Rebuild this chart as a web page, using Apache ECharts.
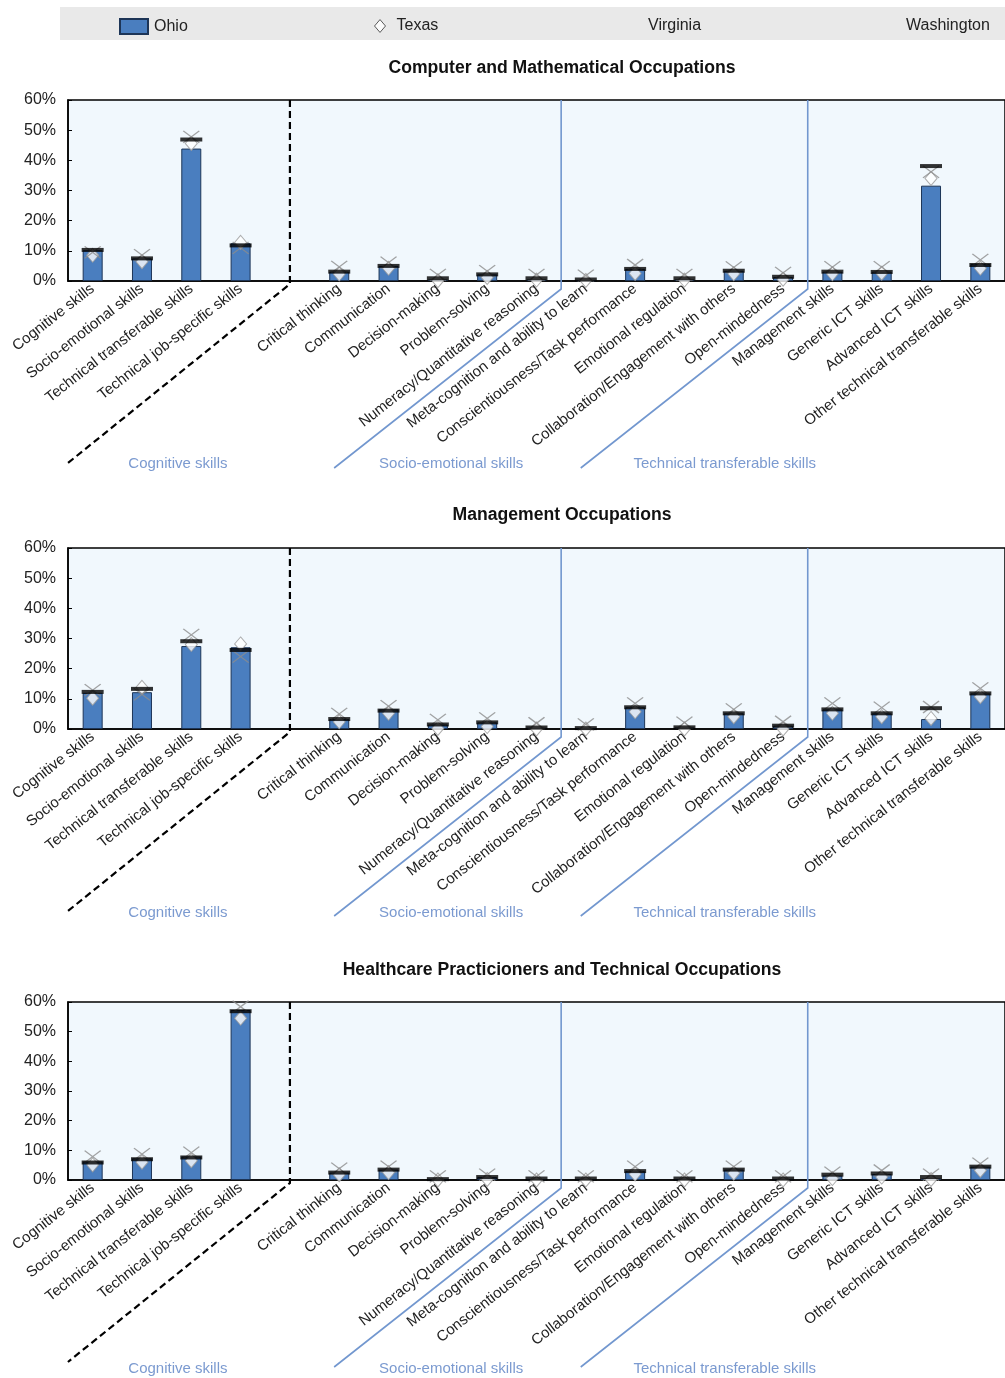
<!DOCTYPE html>
<html>
<head>
<meta charset="utf-8">
<script src="https://cdn.jsdelivr.net/npm/echarts@6/dist/echarts.min.js"></script>
<style>
html,body{margin:0;padding:0;background:#fff;}
#chart{width:1005px;height:1378px;}
</style>
</head>
<body>
<div id="chart"></div>
<script>
const categories = ['Cognitive skills','Socio-emotional skills','Technical transferable skills','Technical job-specific skills','',
  'Critical thinking','Communication','Decision-making','Problem-solving','Numeracy/Quantitative reasoning',
  'Meta-cognition and ability to learn','Conscientiousness/Task performance','Emotional regulation','Collaboration/Engagement with others','Open-mindedness',
  'Management skills','Generic ICT skills','Advanced ICT skills','Other technical transferable skills'];

const panelTitles = ['Computer and Mathematical Occupations','Management Occupations','Healthcare Practicioners and Technical Occupations'];
const groupLabels = ['Cognitive skills','Socio-emotional skills','Technical transferable skills'];
const yTicks = [0,10,20,30,40,50,60];

// Panel 1: Computer and Mathematical Occupations
const ohio1       = [10.2, 7.5, 43.9, 12.5, null, 3.1, 5.0, 0.5, 2.2, 0.5, 0.2, 4.0, 0.5, 3.4, 1.3, 3.1, 3.1, 31.6, 5.6];
const texas1      = [8.5, 6.4, 45.6, 12.8, null, 2.3, 4.2, 0.1, 1.2, 0.3, 0.2, 2.5, 0.3, 2.4, 0.6, 2.4, 2.6, 34.0, 4.2];
const virginia1   = [9.5, 8.6, 47.8, 11.0, null, 4.7, 6.1, 2.0, 3.3, 2.0, 1.8, 5.3, 2.0, 4.5, 2.7, 4.6, 4.6, 36.2, 7.0];
const washington1 = [10.3, 7.5, 46.9, 11.8, null, 3.1, 5.0, 0.9, 2.2, 0.9, 0.5, 4.0, 0.9, 3.4, 1.4, 3.1, 3.0, 38.1, 5.3];

// Panel 2: Management Occupations
const ohio2       = [12.0, 12.2, 27.5, 27.1, null, 3.3, 6.5, 1.5, 2.2, 0.4, 0.3, 7.2, 0.5, 5.2, 1.1, 6.5, 5.2, 3.3, 11.8];
const texas2      = [10.2, 13.8, 28.0, 28.2, null, 2.4, 5.2, 0.2, 0.8, 0.0, 0.0, 5.7, 0.0, 4.1, 0.0, 5.2, 4.1, 3.5, 10.7];
const virginia2   = [12.9, 11.5, 31.2, 24.0, null, 5.0, 7.6, 3.0, 3.5, 1.9, 1.5, 8.5, 2.1, 6.5, 2.4, 8.5, 7.1, 7.3, 13.5];
const washington2 = [12.3, 13.3, 29.1, 26.2, null, 3.3, 6.1, 1.5, 2.2, 0.5, 0.3, 7.2, 0.55, 5.2, 1.1, 6.5, 5.2, 6.9, 11.8];

// Panel 3: Healthcare Practicioners and Technical Occupations
const ohio3       = [6.2, 7.3, 7.9, 57.3, null, 2.5, 3.5, 0.2, 1.0, 0.3, 0.3, 3.0, 0.3, 3.5, 0.3, 1.5, 2.0, 0.5, 4.5];
const texas3      = [5.1, 6.0, 6.5, 54.5, null, 1.8, 2.5, 0.0, 0.2, 0.0, 0.0, 2.0, 0.0, 2.3, 0.0, 0.5, 1.0, 0.2, 3.2];
const virginia3   = [7.9, 8.7, 9.2, 58.4, null, 3.8, 4.5, 1.2, 1.8, 1.2, 1.2, 4.5, 1.2, 4.5, 1.2, 2.5, 3.2, 1.8, 5.5];
const washington3 = [5.9, 7.0, 7.6, 56.9, null, 2.5, 3.5, 0.3, 1.0, 0.5, 0.5, 3.0, 0.5, 3.5, 0.5, 1.8, 2.2, 1.0, 4.5];

const panels = [
  {ohio: ohio1, texas: texas1, virginia: virginia1, washington: washington1},
  {ohio: ohio2, texas: texas2, virginia: virginia2, washington: washington2},
  {ohio: ohio3, texas: texas3, virginia: virginia3, washington: washington3}
];

const FONT = "'Liberation Sans Narrow','Arial Narrow','Liberation Sans',Arial,sans-serif";
const gridTops = [100, 548, 1002];
const gridHeights = [181, 181, 178];
const titleTops = [54, 501, 956];
const groupLabelOffsets = [183, 184, 189];
const X_SYMBOL = 'path://M0,0L16,12M16,0L0,12';
const DIAMOND = 'path://M6,0L12,7L6,14L0,7Z';

const chart = echarts.init(document.getElementById('chart'), null, {renderer: 'canvas'});

const grids = [], xAxes = [], yAxes = [], titles = [], series = [];
panels.forEach((p, i) => {
  grids.push({left: 68, width: 944, top: gridTops[i], height: gridHeights[i], show: true,
    backgroundColor: '#f1f8fd', borderColor: '#000', borderWidth: 1.5, containLabel: false});
  xAxes.push({type: 'category', gridIndex: i, data: categories, boundaryGap: true,
    axisLine: {lineStyle: {color: '#000', width: 1.5}},
    axisTick: {inside: true, length: 5, alignWithLabel: false, lineStyle: {color: '#000', width: 1.5}},
    axisLabel: {interval: 0, rotate: 38, fontFamily: FONT, fontSize: 15, color: '#222', margin: 6}});
  yAxes.push({type: 'value', gridIndex: i, min: 0, max: 60, interval: 10,
    axisLine: {show: true, lineStyle: {color: '#000', width: 1.5}},
    axisTick: {show: true, inside: true, length: 4, lineStyle: {color: '#000'}},
    splitLine: {show: false},
    axisLabel: {formatter: '{value}%', fontFamily: FONT, fontSize: 16, color: '#222', margin: 12}});
  titles.push({text: panelTitles[i], left: 557, top: titleTops[i], textAlign: 'center',
    textStyle: {fontFamily: FONT, fontSize: 17.6, fontWeight: 'bold', color: '#111'}});
  series.push({name: 'Ohio', type: 'bar', xAxisIndex: i, yAxisIndex: i, data: p.ohio, barWidth: 20,
    itemStyle: {color: '#4a7ebf', borderColor: '#1d3557', borderWidth: 1}, z: 2});
  series.push({name: 'Texas', type: 'scatter', xAxisIndex: i, yAxisIndex: i, data: p.texas,
    symbol: DIAMOND, symbolSize: [12, 14], itemStyle: {color: '#fff', borderColor: '#9a9a9a', borderWidth: 1}, z: 3});
  series.push({name: 'Virginia', type: 'scatter', xAxisIndex: i, yAxisIndex: i, data: p.virginia,
    symbol: X_SYMBOL, symbolSize: [16, 12], itemStyle: {color: 'none', borderColor: '#8c8c8c', borderWidth: 1.3}, z: 4});
  series.push({name: 'Washington', type: 'scatter', xAxisIndex: i, yAxisIndex: i, data: p.washington,
    symbol: 'rect', symbolSize: [22, 4], itemStyle: {color: '#000'}, z: 5});
});

const legendText = {fontFamily: FONT, fontSize: 16, color: '#222'};
const option = {
  animation: false,
  backgroundColor: '#fff',
  title: titles,
  legend: [
    {data: [{name: 'Ohio', icon: 'rect'}], left: 114, top: 13, itemWidth: 28, itemHeight: 15, itemGap: 0,
      textStyle: Object.assign({padding: [0, 0, 0, 1]}, legendText), selectedMode: false},
    {data: [{name: 'Texas', icon: DIAMOND, itemStyle: {color: '#fff', borderColor: '#333', borderWidth: 1}}], left: 369, top: 13, itemWidth: 11, itemHeight: 13,
      textStyle: Object.assign({padding: [0, 0, 0, 6]}, legendText), selectedMode: false},
    {data: [{name: 'Virginia', itemStyle: {color: 'transparent', borderColor: 'transparent', opacity: 0}}], left: 625, top: 13, itemWidth: 12, itemHeight: 12, textStyle: legendText, selectedMode: false},
    {data: [{name: 'Washington', itemStyle: {color: 'transparent', borderColor: 'transparent', opacity: 0}}], left: 884, top: 13, itemWidth: 12, itemHeight: 12, textStyle: legendText, selectedMode: false}
  ],
  grid: grids, xAxis: xAxes, yAxis: yAxes, series: series
};
chart.setOption(option);

// Separators and group labels, positioned from the axes' own scales
const graphics = [{type: 'rect', shape: {x: 60, y: 7, width: 945, height: 33}, style: {fill: '#e9e9e9'}, z: -10, silent: true}];
panels.forEach((p, i) => {
  const px = idx => chart.convertToPixel({xAxisIndex: i}, idx);
  const top = chart.convertToPixel({yAxisIndex: i}, 60);
  const bottom = chart.convertToPixel({yAxisIndex: i}, 0);
  const xDash = px(4);
  const xB1 = (px(9) + px(10)) / 2;
  const xB2 = (px(14) + px(15)) / 2;
  const DX = 227, DY = 179;
  graphics.push({type: 'polyline', shape: {points: [[xDash, top], [xDash, bottom + 3], [xDash - (DX - 5), bottom + 3 + DY]]},
    style: {stroke: '#000', lineWidth: 2.2, lineDash: [7, 4], fill: null}, z: 10, silent: true});
  [xB1, xB2].forEach(xb => {
    graphics.push({type: 'polyline', shape: {points: [[xb, top], [xb, bottom + 8], [xb - DX, bottom + 8 + DY]]},
      style: {stroke: '#7297cf', lineWidth: 1.6, fill: null}, z: 10, silent: true});
  });
  const ends = [xDash - (DX - 5), xB1 - DX, xB2 - DX];
  const offs = [110, 117, 144];
  groupLabels.forEach((g, k) => {
    graphics.push({type: 'text', x: ends[k] + offs[k], y: bottom + groupLabelOffsets[i],
      style: {text: g, fill: '#7b9ad0', font: "15px " + FONT, textAlign: 'center', textVerticalAlign: 'middle'}, z: 10, silent: true});
  });
});
chart.setOption({graphic: graphics});
</script>
</body>
</html>
